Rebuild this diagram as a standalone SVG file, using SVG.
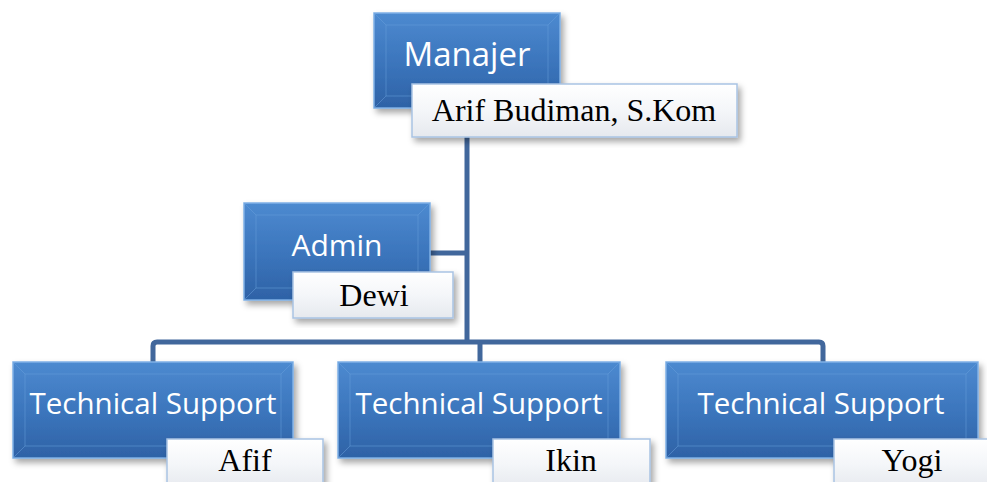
<svg xmlns="http://www.w3.org/2000/svg" width="987" height="482" viewBox="0 0 987 482">
<defs>
<linearGradient id="blue" x1="0" y1="0" x2="0" y2="1">
<stop offset="0" stop-color="#4d8ad0"/>
<stop offset="0.5" stop-color="#3c76bd"/>
<stop offset="1" stop-color="#2e62a6"/>
</linearGradient>
<linearGradient id="white" x1="0" y1="0" x2="0" y2="1">
<stop offset="0" stop-color="#ffffff"/>
<stop offset="0.5" stop-color="#f4f6f9"/>
<stop offset="1" stop-color="#e6e9ee"/>
</linearGradient>
<filter id="sh" x="-10%" y="-10%" width="125%" height="130%">
<feDropShadow dx="3" dy="4" stdDeviation="3" flood-color="#000" flood-opacity="0.35"/>
</filter>
</defs>
<style>
.box{fill:url(#blue);stroke:#7fb0e6;stroke-width:1.5;filter:url(#sh)}
.bev{fill:none;stroke:#6a9fdc;stroke-width:1;opacity:0.5}
.lab{fill:url(#white);stroke:#a9c3e3;stroke-width:1.5;filter:url(#sh)}
.t{font-family:"Open Sans","Lato","Liberation Sans",sans-serif;fill:#ffffff;text-anchor:middle}
.n{font-family:"Liberation Serif","Times New Roman",serif;fill:#000;text-anchor:middle;font-size:32px}
.con{fill:none;stroke:#41679c;stroke-width:5;stroke-linejoin:round}
</style>
<g id="connectors">
<path class="con" d="M467 136 V341"/>
<path class="con" d="M430 253 H467"/>
<path class="con" d="M153 363 V346 Q153 342 157 342 H819 Q823 342 823 346 V363"/>
<path class="con" d="M480 342 V363"/>
</g>
<g id="manajer">
<rect class="box" x="374" y="13" width="186" height="95"/>
<path class="bev" d="M374 13 L386 25 H548 L560 13 M548 25 V96 L560 108 M386 25 V96 L374 108 M386 96 H548"/>
<text class="t" x="467" y="66" font-size="33">Manajer</text>
<rect class="lab" x="412" y="84" width="325" height="53"/>
<text class="n" x="574" y="121">Arif Budiman, S.Kom</text>
</g>
<g id="admin">
<rect class="box" x="244" y="203" width="186" height="97"/>
<path class="bev" d="M244 203 L256 215 H418 L430 203 M418 215 V288 L430 300 M256 215 V288 L244 300 M256 288 H418"/>
<text class="t" x="337" y="256" font-size="30">Admin</text>
<rect class="lab" x="293" y="272" width="160" height="46"/>
<text class="n" x="374" y="306">Dewi</text>
</g>
<g id="ts1">
<rect class="box" x="13" y="362" width="280" height="96"/>
<path class="bev" d="M13 362 L25 374 H281 L293 362 M281 374 V446 L293 458 M25 374 V446 L13 458 M25 446 H281"/>
<text class="t" x="153" y="414" font-size="29.5">Technical Support</text>
<rect class="lab" x="167" y="439" width="156" height="50"/>
<text class="n" x="245" y="471">Afif</text>
</g>
<g id="ts2">
<rect class="box" x="338" y="362" width="282" height="96"/>
<path class="bev" d="M338 362 L350 374 H608 L620 362 M608 374 V446 L620 458 M350 374 V446 L338 458 M350 446 H608"/>
<text class="t" x="479" y="414" font-size="29.5">Technical Support</text>
<rect class="lab" x="493" y="439" width="157" height="50"/>
<text class="n" x="571" y="471">Ikin</text>
</g>
<g id="ts3">
<rect class="box" x="666" y="362" width="312" height="96"/>
<path class="bev" d="M666 362 L678 374 H966 L978 362 M966 374 V446 L978 458 M678 374 V446 L666 458 M678 446 H966"/>
<text class="t" x="821" y="414" font-size="29.5">Technical Support</text>
<rect class="lab" x="834" y="439" width="160" height="50"/>
<text class="n" x="912" y="471">Yogi</text>
</g>
</svg>
